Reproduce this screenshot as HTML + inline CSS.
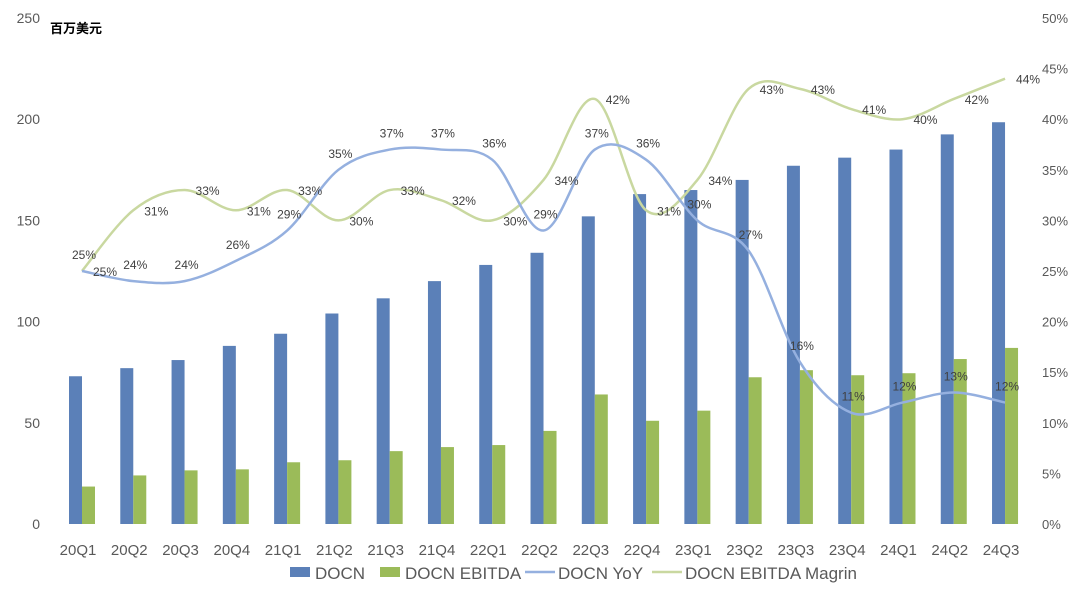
<!DOCTYPE html>
<html><head><meta charset="utf-8"><style>
body{margin:0;background:#fff;}
svg{font-family:"Liberation Sans","Noto Sans CJK SC",sans-serif;}
</style></head><body>
<svg id="chart" width="1080" height="599"></svg>
<script>
const categories=["20Q1","20Q2","20Q3","20Q4","21Q1","21Q2","21Q3","21Q4","22Q1","22Q2","22Q3","22Q4","23Q1","23Q2","23Q3","23Q4","24Q1","24Q2","24Q3"];
const docn=[73,77,81,88,94,104,111.5,120,128,134,152,163,165,170,177,181,185,192.5,198.5];
const ebitda=[18.5,24,26.5,27,30.5,31.5,36,38,39,46,64,51,56,72.5,76,73.5,74.5,81.5,87];
const yoy=[25,24,24,26,29,35,37,37,36,29,37,36,30,27,16,11,12,13,12];
const margin=[25,31,33,31,33,30,33,32,30,34,42,31,34,43,43,41,40,42,44];
const leftTicks=[0,50,100,150,200,250];
const rightTicks=[0,5,10,15,20,25,30,35,40,45,50];
const NS="http://www.w3.org/2000/svg";
const svg=document.getElementById('chart');
const y0=524,yTop=18;
const yL=v=>y0-(y0-yTop)*v/250;
const yR=v=>y0-(y0-yTop)*v/50;
const xC=i=>82+51.28*i;
function mk(t,a,txt){const e=document.createElementNS(NS,t);for(const k in a)e.setAttribute(k,a[k]);if(txt!==undefined)e.textContent=txt;svg.appendChild(e);return e;}
leftTicks.forEach(v=>{const e=mk('text',{x:40,y:yL(v)+5,'text-anchor':'end','font-size':14,fill:'#595959'},v);

});
rightTicks.forEach(v=>{const e=mk('text',{x:1042,y:yR(v)+5,'font-size':13,fill:'#595959'},v+'%');

});
const u=mk('text',{x:50,y:33,'font-size':13,'font-weight':'bold',fill:'#000'},'百万美元');


categories.forEach((c,i)=>{
const b=mk('rect',{x:xC(i)-13,y:yL(docn[i]),width:13,height:y0-yL(docn[i]),fill:'#5b80b8'});


const e=mk('rect',{x:xC(i),y:yL(ebitda[i]),width:13,height:y0-yL(ebitda[i]),fill:'#9bbb59'});


const t=mk('text',{x:xC(i)-4,y:555,'text-anchor':'middle','font-size':15,fill:'#595959'},c);


});
function smooth(pts){let d=`M${pts[0][0]},${pts[0][1]}`;for(let i=0;i<pts.length-1;i++){const p0=pts[i-1]||pts[i],p1=pts[i],p2=pts[i+1],p3=pts[i+2]||p2;const c1=[p1[0]+(p2[0]-p0[0])/6,p1[1]+(p2[1]-p0[1])/6],c2=[p2[0]-(p3[0]-p1[0])/6,p2[1]-(p3[1]-p1[1])/6];d+=`C${c1[0]},${c1[1]} ${c2[0]},${c2[1]} ${p2[0]},${p2[1]}`;}return d;}
const lm=mk('path',{d:smooth(margin.map((v,i)=>[xC(i),yR(v)])),fill:'none',stroke:'#c9d8a0','stroke-width':2.5});


const ly=mk('path',{d:smooth(yoy.map((v,i)=>[xC(i),yR(v)])),fill:'none',stroke:'#95b0df','stroke-width':2.5});


yoy.forEach((v,i)=>{const t=mk('text',{x:xC(i)+2,y:yR(v)-12,'text-anchor':'middle','font-size':12,fill:'#404040'},v+'%');

});
margin.forEach((v,i)=>{const t=mk('text',{x:xC(i)+23,y:yR(v)+5,'text-anchor':'middle','font-size':12,fill:'#404040'},v+'%');

});
const leg=[['DOCN','#5b80b8','rect',290],['DOCN EBITDA','#9bbb59','rect',380],['DOCN YoY','#95b0df','line',533],['DOCN EBITDA Magrin','#c9d8a0','line',660]];
leg.forEach(([n,c,k,x])=>{
if(k==='rect'){const r=mk('rect',{x:x,y:567,width:20,height:10,fill:c});}
else{const l=mk('line',{x1:x-8,y1:572,x2:x+22,y2:572,stroke:c,'stroke-width':2.5});}
const t=mk('text',{x:x+25,y:579,'font-size':17,fill:'#595959'},n);


});
</script>
</body></html>
